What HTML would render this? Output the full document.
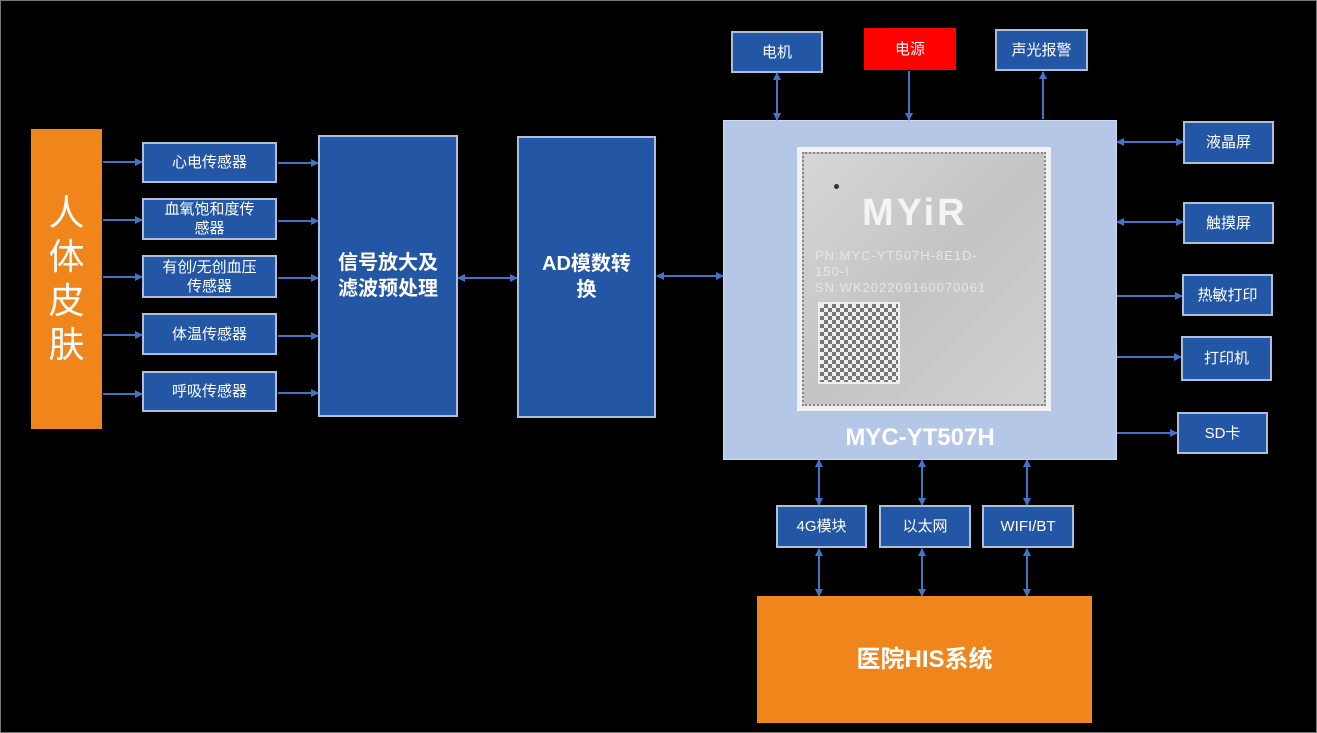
<!DOCTYPE html>
<html><head><meta charset="utf-8"><style>
body{margin:0;width:1317px;height:733px;background:#000;position:relative;overflow:hidden;font-family:"Liberation Sans","Noto Sans CJK SC",sans-serif;}
.b{position:absolute;background:#2356a4;border:2px solid #aebfdc;box-sizing:border-box;color:#fff;display:flex;align-items:center;justify-content:center;text-align:center;font-size:15px;line-height:19px}
.frame{position:absolute;left:0;top:0;width:1317px;height:733px;border:1px solid #777;box-sizing:border-box}
svg{position:absolute;left:0;top:0}
</style></head><body>
<div class="frame"></div>
<div class="b" style="left:31px;top:129px;width:71px;height:300px;background:#f0861b;border:none;font-size:36px;line-height:44px;">人<br>体<br>皮<br>肤</div>
<div class="b" style="left:142px;top:142px;width:135px;height:41px">心电传感器</div>
<div class="b" style="left:142px;top:198px;width:135px;height:42px">血氧饱和度传<br>感器</div>
<div class="b" style="left:142px;top:255px;width:135px;height:43px">有创/无创血压<br>传感器</div>
<div class="b" style="left:142px;top:313px;width:135px;height:42px">体温传感器</div>
<div class="b" style="left:142px;top:371px;width:135px;height:41px">呼吸传感器</div>
<div class="b" style="left:318px;top:135px;width:140px;height:282px;font-size:20px;line-height:26px;font-weight:bold">信号放大及<br>滤波预处理</div>
<div class="b" style="left:517px;top:136px;width:139px;height:282px;font-size:20px;line-height:26px;font-weight:bold">AD模数转<br>换</div>
<div style="position:absolute;left:723px;top:120px;width:394px;height:340px;background:#b4c7e7;border:1px solid #d0dcf0;box-sizing:border-box"></div>
<div style="position:absolute;left:797px;top:147px;width:254px;height:264px;background:#f2f2f2;"></div>
<div style="position:absolute;left:802px;top:152px;width:244px;height:254px;background:linear-gradient(135deg,#d6d6d6,#c4c4c4 50%,#d2d2d2);border:2px dotted #888;box-sizing:border-box"></div>
<div style="position:absolute;left:834px;top:184px;width:5px;height:5px;border-radius:50%;background:#333"></div>
<div style="position:absolute;left:862px;top:192px;color:#f4f4f4;font-size:38px;font-weight:bold;letter-spacing:3px">MYiR</div>
<div style="position:absolute;left:815px;top:248px;color:#e6e6e6;font-size:13px;line-height:16px;letter-spacing:1px">PN:MYC-YT507H-8E1D-<br>150-I<br>SN:WK202209160070061</div>
<div style="position:absolute;left:818px;top:302px;width:82px;height:82px;background:repeating-conic-gradient(#777 0 25%,#eee 0 50%) 0 0/8px 8px;border:2px solid #eee;box-sizing:border-box"></div>
<div style="position:absolute;left:723px;top:424px;width:394px;text-align:center;color:#fff;font-size:24px;font-weight:bold">MYC-YT507H</div>
<div class="b" style="left:731px;top:31px;width:92px;height:42px">电机</div>
<div class="b" style="left:864px;top:28px;width:92px;height:42px;background:#f00;border:none">电源</div>
<div class="b" style="left:995px;top:29px;width:93px;height:42px">声光报警</div>
<div class="b" style="left:1183px;top:121px;width:91px;height:43px">液晶屏</div>
<div class="b" style="left:1183px;top:202px;width:91px;height:42px">触摸屏</div>
<div class="b" style="left:1182px;top:274px;width:91px;height:42px">热敏打印</div>
<div class="b" style="left:1181px;top:336px;width:91px;height:45px">打印机</div>
<div class="b" style="left:1177px;top:412px;width:91px;height:42px">SD卡</div>
<div class="b" style="left:776px;top:505px;width:91px;height:43px">4G模块</div>
<div class="b" style="left:879px;top:505px;width:92px;height:43px">以太网</div>
<div class="b" style="left:982px;top:505px;width:92px;height:43px">WIFI/BT</div>
<div class="b" style="left:757px;top:596px;width:335px;height:127px;background:#f0861b;border:none;font-size:24px;font-weight:bold">医院HIS系统</div>
<svg width="1317" height="733">
<defs><marker id="a" markerWidth="8" markerHeight="8" refX="7" refY="4" orient="auto-start-reverse" markerUnits="userSpaceOnUse"><path d="M0,0L8,4L0,8z" fill="#4472c4"/></marker></defs>
<g stroke="#4472c4" stroke-width="2" fill="none">
<line x1="103" y1="162" x2="142" y2="162" marker-end="url(#a)"/>
<line x1="103" y1="220" x2="142" y2="220" marker-end="url(#a)"/>
<line x1="103" y1="277" x2="142" y2="277" marker-end="url(#a)"/>
<line x1="103" y1="335" x2="142" y2="335" marker-end="url(#a)"/>
<line x1="103" y1="394" x2="142" y2="394" marker-end="url(#a)"/>
<line x1="278" y1="163" x2="318" y2="163" marker-end="url(#a)"/>
<line x1="278" y1="221" x2="318" y2="221" marker-end="url(#a)"/>
<line x1="278" y1="278" x2="318" y2="278" marker-end="url(#a)"/>
<line x1="278" y1="336" x2="318" y2="336" marker-end="url(#a)"/>
<line x1="278" y1="393" x2="318" y2="393" marker-end="url(#a)"/>
<line x1="458" y1="278" x2="517" y2="278" marker-start="url(#a)" marker-end="url(#a)"/>
<line x1="657" y1="276" x2="723" y2="276" marker-start="url(#a)" marker-end="url(#a)"/>
<line x1="777" y1="73" x2="777" y2="120" marker-start="url(#a)" marker-end="url(#a)"/>
<line x1="909" y1="71" x2="909" y2="120" marker-end="url(#a)"/>
<line x1="1043" y1="119" x2="1043" y2="72" marker-end="url(#a)"/>
<line x1="1117" y1="142" x2="1183" y2="142" marker-start="url(#a)" marker-end="url(#a)"/>
<line x1="1117" y1="222" x2="1183" y2="222" marker-start="url(#a)" marker-end="url(#a)"/>
<line x1="1117" y1="296" x2="1182" y2="296" marker-end="url(#a)"/>
<line x1="1117" y1="357" x2="1181" y2="357" marker-end="url(#a)"/>
<line x1="1117" y1="433" x2="1177" y2="433" marker-end="url(#a)"/>
<line x1="819" y1="460" x2="819" y2="505" marker-start="url(#a)" marker-end="url(#a)"/>
<line x1="922" y1="460" x2="922" y2="505" marker-start="url(#a)" marker-end="url(#a)"/>
<line x1="1027" y1="460" x2="1027" y2="505" marker-start="url(#a)" marker-end="url(#a)"/>
<line x1="819" y1="549" x2="819" y2="596" marker-start="url(#a)" marker-end="url(#a)"/>
<line x1="922" y1="549" x2="922" y2="596" marker-start="url(#a)" marker-end="url(#a)"/>
<line x1="1027" y1="549" x2="1027" y2="596" marker-start="url(#a)" marker-end="url(#a)"/>
</g></svg>
</body></html>
